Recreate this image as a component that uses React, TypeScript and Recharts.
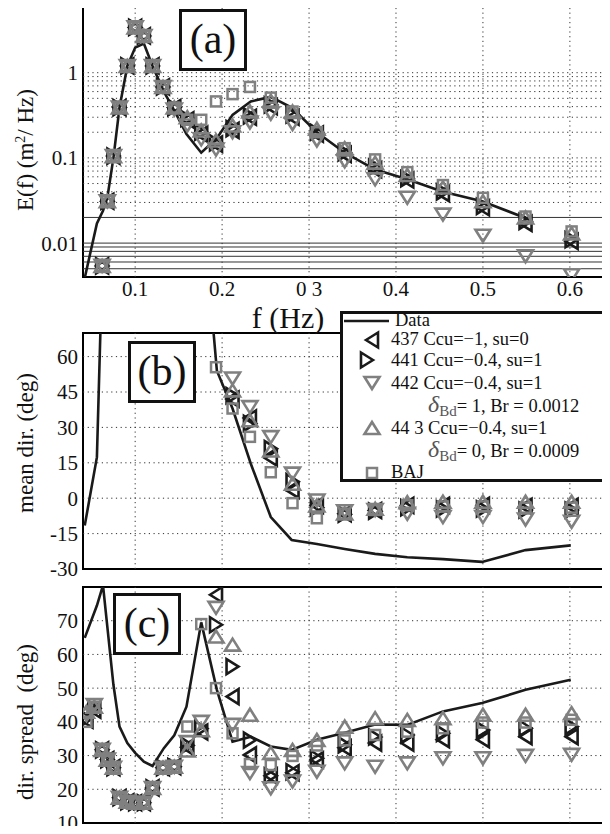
import React from "react";
import {
  ComposedChart,
  Line,
  Scatter,
  XAxis,
  YAxis,
  ReferenceLine,
  ReferenceArea,
} from "recharts";

const FONT = "'Liberation Serif', 'Times New Roman', Times, 'DejaVu Serif', serif";
const BLACK = "#1a1a1a";
const GRAY = "#808080";

// model output frequencies (Hz)
const freqs = [
  0.044, 0.053, 0.062, 0.068, 0.075, 0.082, 0.091, 0.1, 0.11, 0.12, 0.132, 0.145, 0.16, 0.176,
  0.193, 0.212, 0.232, 0.256, 0.281, 0.309, 0.341, 0.376, 0.413, 0.454, 0.5, 0.549, 0.602,
];
// frequencies of the measured data curve (Hz)
const dataFreqs = [
  0.042, 0.056, 0.063, 0.068, 0.075, 0.082, 0.091, 0.1, 0.11, 0.12, 0.133, 0.145, 0.159, 0.176,
  0.194, 0.212, 0.233, 0.256, 0.28, 0.309, 0.341, 0.376, 0.413, 0.454, 0.499, 0.549, 0.601,
];

const xTicks = [0.1, 0.2, 0.3, 0.4, 0.5, 0.6];
const xDomain = [0.04, 0.645];

// (a) E(f)
const eTicks = [0.01, 0.1, 1];
const eDomain = [0.004, 6.4];
const eSolidGrid = [0.005, 0.006, 0.007, 0.008, 0.009, 0.01, 0.02];
const eDotGrid = [0.03, 0.04, 0.05, 0.06, 0.07, 0.08, 0.09, 0.1, 0.2, 0.3, 0.4, 0.5, 0.6, 0.7, 0.8, 0.9, 1];
const eData = [
  0.0039, 0.017, 0.024, 0.034, 0.1, 0.39, 1.2, 1.97, 2.2, 1.2, 0.6, 0.36, 0.19, 0.115,
  0.17, 0.32, 0.46, 0.52, 0.39, 0.2, 0.115, 0.073, 0.056, 0.04, 0.031, 0.0197, null,
];
const e437 = [
  null, null, 0.0054, 0.031, 0.105, 0.39, 1.2, 3.4, 2.7, 1.2, 0.68, 0.39, 0.28, 0.19,
  0.145, 0.21, 0.3, 0.4, 0.3, 0.19, 0.11, 0.073, 0.055, 0.038, 0.026, 0.017, 0.0105,
];
const e441 = [
  null, null, 0.0054, 0.031, 0.105, 0.39, 1.2, 3.4, 2.7, 1.2, 0.68, 0.39, 0.29, 0.2,
  0.15, 0.22, 0.31, 0.42, 0.32, 0.2, 0.115, 0.078, 0.057, 0.04, 0.027, 0.018, 0.011,
];
const e442 = [
  null, null, 0.0054, 0.031, 0.105, 0.39, 1.2, 3.4, 2.7, 1.2, 0.68, 0.37, 0.24, 0.165,
  0.125, 0.2, 0.26, 0.33, 0.25, 0.16, 0.091, 0.056, 0.034, 0.0216, 0.0122, 0.007, 0.0042,
];
const e443 = [
  null, null, 0.0054, 0.031, 0.105, 0.39, 1.2, 3.4, 2.7, 1.2, 0.68, 0.39, 0.3, 0.21,
  0.16, 0.24, 0.35, 0.47, 0.35, 0.22, 0.13, 0.088, 0.063, 0.045, 0.031, 0.02, 0.013,
];
const eBaj = [
  null, null, 0.0054, 0.031, 0.105, 0.39, 1.2, 3.4, 2.7, 1.2, 0.68, 0.39, 0.28, 0.28,
  0.46, 0.56, 0.68, 0.51, 0.35, 0.2, 0.13, 0.096, 0.068, 0.048, 0.034, 0.0205, 0.0137,
];

// (b) mean direction
const dTicks = [-30, -15, 0, 15, 30, 45, 60];
const dDomain = [-30, 70];
const dData = [
  -11.6, 17.4, 110, null, null, null, null, null, null, null, null, null, null, 130,
  54, 38, 14.6, -8, -17.7, -19.4, -21.5, -23.6, -25, -25.8, -27, -22, -20,
];
const d437 = [
  null, null, null, null, null, null, null, null, null, null, null, null, null, null,
  null, 42, 34, 17, 3.3, -3, -6.6, -5.2, -3, -3, -3, -3.5, -3.5,
];
const d441 = [
  null, null, null, null, null, null, null, null, null, null, null, null, null, null,
  null, 43.5, 31.7, 21, 7, -4, -6.8, -5.5, -4, -4.5, -4.5, -5, -5,
];
const d442 = [
  null, null, null, null, null, null, null, null, null, null, null, null, null, null,
  null, 50.7, 38.6, 25.9, 10.4, -1, -5.5, -5, -6.6, -8, -8, -9, -10,
];
const d443 = [
  null, null, null, null, null, null, null, null, null, null, null, null, null, null,
  null, 45.7, 33, 20.2, 6.1, -3.1, -6.5, -4.5, -1.7, -1.5, -1.5, -1.5, -1.5,
];
const dBaj = [
  null, null, null, null, null, null, null, null, null, null, null, null, null, null,
  55.5, 38, 26, 11, -2.1, -8.5, -6.5, -5, -3, -3.5, -3.5, -4, -4,
];

// (c) directional spread
const sTicks = [10, 20, 30, 40, 50, 60, 70];
const sDomain = [10, 80];
const sData = [
  64.9, 74.5, 80.5, 68.2, 51, 38.6, 33.7, 30.8, 28.2, 26.9, 32.2, 36, 44.5, 69.5,
  49.5, 34.1, 35.6, 32.7, 31.7, 34.7, 36.8, 39.2, 39.1, 43.1, 45.6, 49.5, 52.5,
];
const s437 = [
  40.5, 43.5, 31.7, 28.8, 26.4, 17.5, 16.3, 16, 16, 20.4, 26.4, 26.7, 32.5, 37,
  77.7, 47.5, 30.2, 24, 24.9, 28.7, 32.3, 33.7, 33.7, 34.7, 34.7, 35.6, 35.6,
];
const s441 = [
  41, 44, 31.7, 28.8, 26.4, 17.5, 16.3, 16, 16, 20.4, 26.4, 26.7, 33, 38,
  68.8, 56.4, 34.6, 24, 25.2, 29.2, 33.2, 35.5, 36.1, 36.6, 37.6, 38.1, 38.6,
];
const s442 = [
  42, 45, 31.7, 28.8, 26.4, 17.5, 16.3, 16, 16, 20.4, 26.4, 26.7, 34, 40,
  73.8, 39.1, 24.8, 20.3, 22.3, 25.2, 27.7, 26.7, 27.7, 29.2, 29.2, 29.9, 30.2,
];
const s443 = [
  43, 44.5, 31.7, 28.8, 26.4, 17.5, 16.3, 16, 16, 20.4, 26.4, 26.7, 31.5, 37.5,
  65.3, 62.9, 42.1, 30.8, 31.7, 34.6, 38.6, 41.1, 40.6, 41.1, 42.1, 42.1, 42.6,
];
const sBaj = [
  40, 44.5, 31.7, 28.8, 26.4, 17.5, 16.3, 16, 16, 20.4, 26.4, 26.7, 38.6, 69,
  50, 36.6, 27.5, 27.2, 29.9, 33, 34.5, 36.1, 37.1, 38.1, 39.8, 39.8, 40.6,
];

const pts = (xs: number[], ys: (number | null)[]) =>
  xs.map((f, i) => ({ f, v: ys[i] })).filter((p) => p.v !== null);

function marker(kind: string, color: string) {
  return (p: any) => {
    const { cx, cy } = p;
    if (cx == null || cy == null || isNaN(cy)) return <g />;
    if (kind === "square")
      return (
        <rect x={cx - 5} y={cy - 5} width={10} height={10} fill="none" stroke={color} strokeWidth={2.5} />
      );
    let d = "";
    if (kind === "left") d = `M${cx - 6},${cy}L${cx + 6},${cy - 7.5}L${cx + 6},${cy + 7.5}Z`;
    if (kind === "right") d = `M${cx + 6},${cy}L${cx - 6},${cy - 7.5}L${cx - 6},${cy + 7.5}Z`;
    if (kind === "down") d = `M${cx},${cy + 6}L${cx - 7.5},${cy - 6}L${cx + 7.5},${cy - 6}Z`;
    if (kind === "up") d = `M${cx},${cy - 6}L${cx - 7.5},${cy + 6}L${cx + 7.5},${cy + 6}Z`;
    return <path d={d} fill="none" stroke={color} strokeWidth={2.6} />;
  };
}

const series = [
  { kind: "left", color: BLACK },
  { kind: "right", color: BLACK },
  { kind: "down", color: GRAY },
  { kind: "up", color: GRAY },
  { kind: "square", color: GRAY },
];

const tickStyle = { fontFamily: FONT, fontSize: 21, fill: "#111" };
const dotted = "1.2 3.5";

function renderPanel(
  dom: number[],
  dataLine: (number | null)[],
  sets: (number | null)[][],
  grid: number[],
  solid: number[] = []
) {
  return [
    ...solid.map((v) => <ReferenceLine key={"s" + v} y={v} stroke="#333" strokeWidth={1} />),
    ...grid.map((v) => (
      <ReferenceLine key={"g" + v} y={v} stroke="#333" strokeDasharray={dotted} strokeWidth={1} />
    )),
    ...xTicks.map((t) => (
      <ReferenceLine key={"x" + t} x={t} stroke="#333" strokeDasharray={dotted} strokeWidth={1} />
    )),
    <Line
      key="data"
      data={pts(dataFreqs, dataLine)}
      dataKey="v"
      stroke={BLACK}
      strokeWidth={2.6}
      dot={false}
      isAnimationActive={false}
    />,
    ...sets.map((ys, i) => (
      <Scatter
        key={"sc" + i}
        data={pts(freqs, ys)}
        dataKey="v"
        shape={marker(series[i].kind, series[i].color)}
        isAnimationActive={false}
      />
    )),
    <ReferenceArea
      key="box"
      x1={xDomain[0]}
      x2={xDomain[1]}
      y1={dom[0]}
      y2={dom[1]}
      fill="none"
      fillOpacity={0}
      stroke="#000"
      strokeWidth={2}
      ifOverflow="visible"
    />,
  ];
}

const yAxisProps = {
  type: "number" as const,
  allowDataOverflow: true,
  width: 83,
  tickLine: false,
  axisLine: false,
  tickSize: 3,
  tickMargin: 2,
  interval: 0 as const,
  tick: tickStyle,
};

const boxStyle = (left: number, top: number): React.CSSProperties => ({
  position: "absolute",
  left,
  top,
  width: 68,
  height: 62,
  boxSizing: "border-box",
  border: "3px solid #111",
  background: "#fff",
  fontFamily: FONT,
  fontSize: 42,
  lineHeight: "54px",
  textAlign: "center",
  color: "#111",
});

const yLabel = (cy: number): React.CSSProperties => ({
  position: "absolute",
  left: 26,
  top: cy,
  transform: "translate(-50%, -50%) rotate(-90deg)",
  whiteSpace: "pre",
  fontFamily: FONT,
  fontSize: 23,
  color: "#111",
});

// legend rows are placed by their page coordinates (centre y, left x)
const legendRow = (y: number, x: number): React.CSSProperties => ({
  position: "absolute",
  left: x - 343,
  top: y - 314 - 8,
  height: 16,
  lineHeight: "16px",
  whiteSpace: "nowrap",
  fontFamily: FONT,
  fontSize: 18.5,
  color: "#111",
});

function Delta({ rest }: { rest: string }) {
  return (
    <span>
      <span style={{ fontSize: 24, lineHeight: "16px", fontStyle: "italic", color: "#555" }}>δ</span>
      <span style={{ fontSize: 15, lineHeight: "16px", color: "#555", position: "relative", top: 4 }}>
        Bd
      </span>
      {rest}
    </span>
  );
}

export default function App() {
  return (
    <div
      style={{
        position: "relative",
        width: 610,
        height: 834,
        margin: -8,
        background: "#fff",
        overflow: "hidden",
        fontFamily: FONT,
      }}
    >
      {/* (a) spectrum */}
      <div style={{ position: "absolute", left: 0, top: 0 }}>
        <ComposedChart width={610} height={310} margin={{ top: 4, right: 1, bottom: 0, left: 0 }}>
          <XAxis
            dataKey="f"
            type="number"
            domain={xDomain}
            allowDataOverflow
            ticks={xTicks}
            interval={0}
            height={33}
            tickLine={false}
            axisLine={false}
            tickSize={4}
            tickMargin={0}
            tick={tickStyle}
            tickFormatter={(v) => (v === 0.3 ? "0 3" : String(v))}
          />
          <YAxis
            {...yAxisProps}
            scale="log"
            domain={eDomain}
            ticks={eTicks}
            tickFormatter={(v) => String(v)}
          />
          {renderPanel(eDomain, eData, [e437, e441, e442, e443, eBaj], eDotGrid, eSolidGrid)}
        </ComposedChart>
      </div>

      {/* (b) mean direction */}
      <div style={{ position: "absolute", left: 0, top: 320 }}>
        <ComposedChart width={610} height={260} margin={{ top: 13, right: 1, bottom: 11, left: 0 }}>
          <XAxis dataKey="f" type="number" domain={xDomain} allowDataOverflow ticks={xTicks} hide />
          <YAxis {...yAxisProps} domain={dDomain} ticks={dTicks} />
          {renderPanel(dDomain, dData, [d437, d441, d442, d443, dBaj], dTicks.slice(1))}
        </ComposedChart>
      </div>

      {/* (c) directional spread */}
      <div style={{ position: "absolute", left: 0, top: 580 }}>
        <ComposedChart width={610} height={254} margin={{ top: 7, right: 1, bottom: 11, left: 0 }}>
          <XAxis dataKey="f" type="number" domain={xDomain} allowDataOverflow ticks={xTicks} hide />
          <YAxis {...yAxisProps} domain={sDomain} ticks={sTicks} />
          {renderPanel(sDomain, sData, [s437, s441, s442, s443, sBaj], sTicks.slice(1))}
        </ComposedChart>
      </div>

      {/* axis titles */}
      <div style={yLabel(150)}>
        E(f) (m<sup style={{ fontSize: 14 }}>2</sup>/ Hz)
      </div>
      <div style={yLabel(443)}>mean dir. (deg)</div>
      <div style={yLabel(722)}>{"dir. spread  (deg)"}</div>
      <div
        style={{
          position: "absolute",
          left: 288,
          top: 318,
          transform: "translate(-50%, -50%)",
          fontFamily: FONT,
          fontSize: 30,
          lineHeight: "24px",
          whiteSpace: "nowrap",
          color: "#111",
        }}
      >
        f (Hz)
      </div>

      {/* panel tags */}
      <div style={boxStyle(179, 9)}>(a)</div>
      <div style={boxStyle(128, 341)}>(b)</div>
      <div style={boxStyle(113, 593)}>(c)</div>

      {/* legend */}
      <div
        style={{
          position: "absolute",
          left: 340,
          top: 311,
          width: 270,
          height: 171,
          boxSizing: "border-box",
          border: "3px solid #111",
          background: "#fff",
        }}
      >
        <svg width={264} height={165} style={{ position: "absolute", left: 0, top: 0 }}>
          <line x1={1} x2={46} y1={7} y2={7} stroke={BLACK} strokeWidth={2.6} />
          {marker("left", BLACK)({ cx: 29, cy: 26 })}
          {marker("right", BLACK)({ cx: 24, cy: 46 })}
          {marker("down", GRAY)({ cx: 29, cy: 69 })}
          {marker("up", GRAY)({ cx: 29, cy: 114 })}
          {marker("square", GRAY)({ cx: 29, cy: 159 })}
        </svg>
        <div style={legendRow(320, 395)}>Data</div>
        <div style={legendRow(339, 391)}>437 Ccu=−1, su=0</div>
        <div style={legendRow(360, 391)}>441 Ccu=−0.4, su=1</div>
        <div style={legendRow(383, 391)}>442 Ccu=−0.4, su=1</div>
        <div style={legendRow(404, 428)}>
          <Delta rest="= 1, Br = 0.0012" />
        </div>
        <div style={legendRow(428, 391)}>44 3 Ccu=−0.4, su=1</div>
        <div style={legendRow(449, 428)}>
          <Delta rest="= 0, Br = 0.0009" />
        </div>
        <div style={legendRow(472, 391)}>BAJ</div>
      </div>
    </div>
  );
}
